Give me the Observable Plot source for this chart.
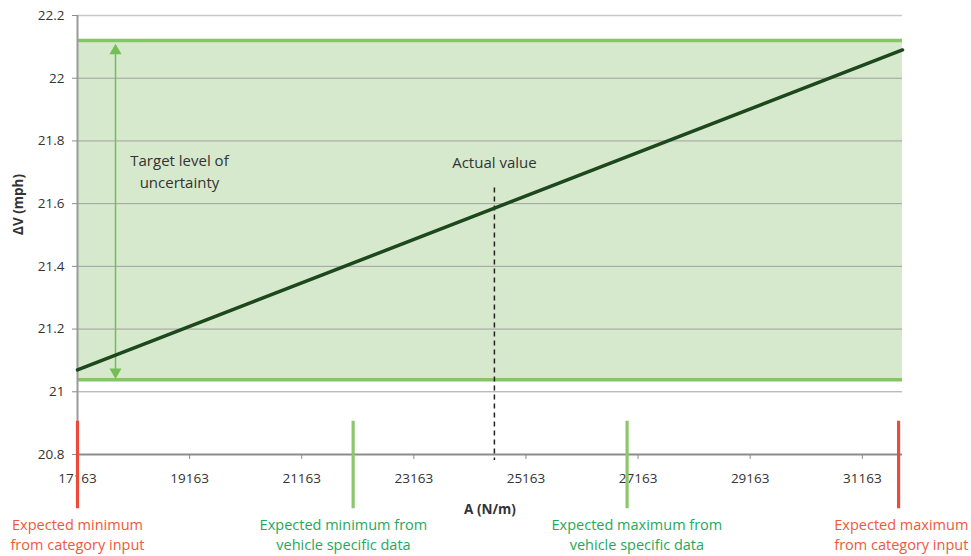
<!DOCTYPE html>
<html>
<head>
<meta charset="utf-8">
<script src="https://cdn.jsdelivr.net/npm/d3@7"></script>
<script src="https://cdn.jsdelivr.net/npm/@observablehq/plot@0.6"></script>
<style>
  html, body { margin: 0; padding: 0; background: #fff; }
  #chart svg { display: block; }
</style>
</head>
<body>
<div id="chart"></div>
<script>
// Stiffness A (N/m) on x, delta-V (mph) on y
const xTicks = [17163, 19163, 21163, 23163, 25163, 27163, 29163, 31163];
const yTicks = [20.8, 21, 21.2, 21.4, 21.6, 21.8, 22, 22.2];
const xDomain = [17163, 31880];
const yDomain = [20.8, 22.2];

// Delta-V as a function of stiffness
const trendA = [17163, 31880];
const trendDV = [21.07, 22.09];

// Target uncertainty band
const bandLow = 21.038;
const bandHigh = 22.12;

// Actual stiffness value
const actualA = 24600;

// Expected range markers
const markerA = [17163, 22080, 26967, 31810];
const markerKind = ["category", "vehicle", "vehicle", "category"];
const markerLabelA = [17163, 21907, 27142, 31859];
const markerLabel = [
  "Expected minimum\nfrom category input",
  "Expected minimum from\nvehicle specific data",
  "Expected maximum from\nvehicle specific data",
  "Expected maximum\nfrom category input"
];

const trend = trendA.map((a, i) => ({a, dv: trendDV[i]}));
const markers = markerA.map((a, i) => ({a, kind: markerKind[i], labelA: markerLabelA[i], label: markerLabel[i]}));
const kindColor = {category: "#ec4b3a", vehicle: "#8dc66b"};
const kindText = {category: "#f0583c", vehicle: "#1fa85c"};

const FONT = "'Open Sans', sans-serif";
const arrowA = 17841;

const chart = Plot.plot({
  width: 971,
  height: 556,
  marginLeft: 77,
  marginRight: 69,
  marginTop: 15,
  marginBottom: 102,
  style: {fontFamily: FONT, fontSize: "13.5px", color: "#333", background: "#fff"},
  x: {domain: xDomain, axis: null},
  y: {domain: yDomain, axis: null},
  marks: [
    // uncertainty band
    Plot.rect([{}], {x1: xDomain[0], x2: xDomain[1], y1: bandLow, y2: bandHigh, fill: "#d6e9cd"}),
    // horizontal gridlines
    Plot.ruleY(yTicks.filter(v => v > yDomain[0] && v < yDomain[1]), {stroke: "#a0a0a0", strokeWidth: 1}),
    Plot.ruleY([yDomain[1]], {stroke: "#c8c8c8", strokeWidth: 1.5}),
    // band edges
    Plot.ruleY([bandLow, bandHigh], {x1: xDomain[0], x2: xDomain[1], stroke: "#86c566", strokeWidth: 3.5}),
    // axes
    Plot.ruleX([xDomain[0]], {stroke: "#9a9a9a", strokeWidth: 2}),
    Plot.ruleY([yDomain[0]], {stroke: "#8c8c8c", strokeWidth: 1.8}),
    Plot.axisY({ticks: yTicks, tickSize: 5, tickPadding: 8, tickFormat: d => String(d), label: null, stroke: "#8c8c8c", fill: "#333", fontSize: 13.5}),
    Plot.axisX({ticks: xTicks, tickSize: 5, tickPadding: 14, tickFormat: d => String(d), label: null, stroke: "#8c8c8c", fill: "#333", fontSize: 13.5}),
    // double-headed uncertainty arrow
    Plot.ruleX([arrowA], {y1: bandLow + 0.012, y2: bandHigh - 0.02, stroke: "#72c054", strokeWidth: 1.5}),
    Plot.dot([arrowA], {x: d => d, y: bandHigh - 0.02, symbol: "triangle", r: 4.5, fill: "#72c054", stroke: null, dy: 4}),
    Plot.dot([arrowA], {x: d => d, y: bandLow + 0.012, symbol: "triangle", r: 4.5, fill: "#72c054", stroke: null, rotate: 180, dy: -4}),
    Plot.text(["Target level of\nuncertainty"], {x: 18982, y: 21.708, text: d => d, fill: "#333", fontSize: 15, lineHeight: 1.45}),
    // actual value marker
    Plot.ruleX([actualA], {y1: 21.65, y2: yDomain[0], stroke: "#222", strokeWidth: 1.5, strokeDasharray: "5,4", insetBottom: -6}),
    Plot.text(["Actual value"], {x: actualA, y: 21.728, text: d => d, fill: "#333", fontSize: 15}),
    // delta-V line
    Plot.line(trend, {x: "a", y: "dv", stroke: "#1d471c", strokeWidth: 3.5}),
    // expected range markers below the axis
    Plot.ruleX(markers, {x: "a", y1: 20.906, y2: 20.627, stroke: d => kindColor[d.kind], strokeWidth: 3.2}),
    Plot.text(markers, {x: "labelA", frameAnchor: "bottom", dy: 95, text: "label", fill: d => kindText[d.kind], fontSize: 14.5, lineHeight: 1.38}),
    // axis titles
    Plot.text(["ΔV (mph)"], {frameAnchor: "left", dx: -59, rotate: -90, text: d => d, fontWeight: "bold", fill: "#333", fontSize: 13.5}),
    Plot.text(["A (N/m)"], {frameAnchor: "bottom", dy: 59, text: d => d, fontWeight: "bold", fill: "#333", fontSize: 13.5})
  ]
});

document.getElementById("chart").appendChild(chart);
</script>
</body>
</html>
